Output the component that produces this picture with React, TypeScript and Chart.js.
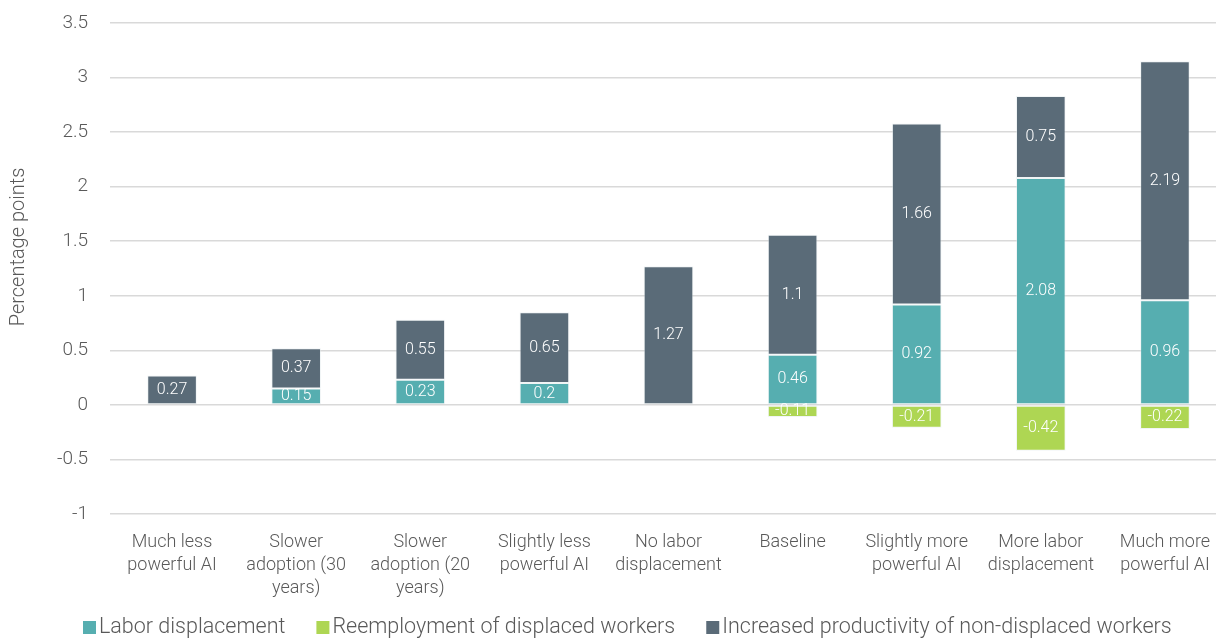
import { useEffect, useRef } from "react";
import { Chart, registerables } from "chart.js";

Chart.register(...registerables);

// Scenario names, one array entry per line of the axis label
const categories: string[][] = [
  ["Much less", "powerful AI"],
  ["Slower", "adoption (30", "years)"],
  ["Slower", "adoption (20", "years)"],
  ["Slightly less", "powerful AI"],
  ["No labor", "displacement"],
  ["Baseline"],
  ["Slightly more", "powerful AI"],
  ["More labor", "displacement"],
  ["Much more", "powerful AI"],
];

// Contributions in percentage points (null = no contribution)
const laborDisplacement: (number | null)[] = [null, 0.15, 0.23, 0.2, null, 0.46, 0.92, 2.08, 0.96];
const reemployment: (number | null)[] = [null, null, null, null, null, -0.11, -0.21, -0.42, -0.22];
const productivity: (number | null)[] = [0.27, 0.37, 0.55, 0.65, 1.27, 1.1, 1.66, 0.75, 2.19];

const seriesNames = [
  "Labor displacement",
  "Reemployment of displaced workers",
  "Increased productivity of non-displaced workers",
];

const yMin = -1;
const yMax = 3.5;
const yStep = 0.5;

const COLORS = ["#56AEB0", "#AED653", "#5A6B78"];
const TEXT = "#595959";
const FONT = "Roboto, 'Noto Sans', sans-serif";

// White value labels centred in each bar segment
const valueLabels = {
  id: "valueLabels",
  afterDatasetsDraw(chart: any) {
    const ctx = chart.ctx;
    ctx.save();
    ctx.font = `300 16px ${FONT}`;
    ctx.fillStyle = "#ffffff";
    ctx.textAlign = "center";
    ctx.textBaseline = "middle";
    chart.data.datasets.forEach((ds: any, i: number) => {
      const meta = chart.getDatasetMeta(i);
      meta.data.forEach((bar: any, j: number) => {
        const v = ds.data[j];
        if (v == null) return;
        const { x, y, base } = bar.getProps(["x", "y", "base"], true);
        ctx.fillText(String(v), x, (y + base) / 2);
      });
    });
    ctx.restore();
  },
};

// Axis title and a compact legend (small gap between swatch and text)
const decorations = {
  id: "decorations",
  afterDraw(chart: any) {
    const ctx = chart.ctx;
    ctx.save();
    ctx.fillStyle = TEXT;
    ctx.font = `300 20px ${FONT}`;
    ctx.textAlign = "center";
    ctx.textBaseline = "middle";
    ctx.translate(19, 247);
    ctx.rotate(-Math.PI / 2);
    ctx.fillText("Percentage points", 0, 0);
    ctx.restore();

    ctx.save();
    ctx.font = `300 21.5px ${FONT}`;
    ctx.textBaseline = "middle";
    ctx.textAlign = "left";
    let x = 83;
    const y = 628;
    seriesNames.forEach((name, i) => {
      ctx.fillStyle = COLORS[i];
      ctx.fillRect(x, y - 7, 13, 13);
      ctx.fillStyle = TEXT;
      ctx.fillText(name, x + 16, y);
      x += 16 + ctx.measureText(name).width + 31;
    });
    ctx.restore();
  },
};

export default function App() {
  const canvasRef = useRef<HTMLCanvasElement | null>(null);

  useEffect(() => {
    const canvas = canvasRef.current;
    if (!canvas) return;
    const mk = (label: string, data: (number | null)[], color: string) => ({
      label,
      data,
      backgroundColor: color,
      borderColor: "rgba(225,232,235,0.45)",
      borderWidth: 1,
      borderSkipped: false as const,
      categoryPercentage: 1,
      barPercentage: 0.4,
    });
    const chart = new Chart(canvas, {
      type: "bar",
      data: {
        labels: categories,
        datasets: [
          mk(seriesNames[0], laborDisplacement, COLORS[0]),
          mk(seriesNames[1], reemployment, COLORS[1]),
          mk(seriesNames[2], productivity, COLORS[2]),
        ],
      },
      options: {
        responsive: false,
        animation: false,
        devicePixelRatio: 1,
        layout: { padding: { top: 23, left: 0, right: 0, bottom: 24 } },
        plugins: {
          legend: { display: false },
          tooltip: { enabled: false },
        },
        scales: {
          x: {
            stacked: true,
            grid: { display: false, drawTicks: false },
            border: { display: false },
            ticks: {
              color: TEXT,
              font: { family: FONT, size: 18, weight: "300", lineHeight: 1.28 },
              padding: 17,
              maxRotation: 0,
              autoSkip: false,
            },
            afterFit(scale: any) {
              scale.height = 100;
              scale.paddingLeft = 0;
              scale.paddingRight = 0;
            },
          },
          y: {
            stacked: true,
            min: yMin,
            max: yMax,
            grid: { color: "#D9D9D9", lineWidth: 1.5, drawTicks: false },
            border: { display: false },
            ticks: {
              stepSize: yStep,
              color: TEXT,
              font: { family: FONT, size: 19, weight: "300" },
              padding: 22,
              callback: (v: any) => String(v),
            },
            afterFit(scale: any) {
              scale.width = 110;
              scale.paddingTop = 0;
              scale.paddingBottom = 0;
            },
          },
        },
      },
      plugins: [valueLabels, decorations],
    });
    return () => chart.destroy();
  }, []);

  return (
    <div
      style={{
        position: "fixed",
        left: 0,
        top: 0,
        width: 1216,
        height: 638,
        overflow: "hidden",
        background: "#ffffff",
      }}
    >
      <canvas ref={canvasRef} width={1227} height={638} style={{ display: "block" }} />
    </div>
  );
}
